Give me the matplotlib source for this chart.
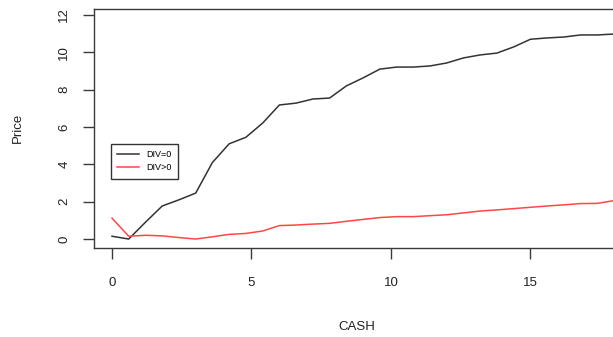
"""
Price against CASH for the two dividend groups (R-style line plot)
"""

import matplotlib
matplotlib.use("Agg")
import matplotlib.pyplot as plt

# values
cash = [0.0, 0.6, 1.2, 1.8, 2.4, 3.0, 3.6, 4.2, 4.8, 5.4, 6.0, 6.6, 7.2, 7.8, 8.4, 9.0,
        9.6, 10.2, 10.8, 11.4, 12.0, 12.6, 13.2, 13.8, 14.4, 15.0, 15.6, 16.2, 16.8,
        17.4, 18.0, 18.6]
price_div0 = [0.15, 0.0, 0.9, 1.77, 2.1, 2.46, 4.1, 5.1, 5.45, 6.21, 7.18, 7.28, 7.5,
              7.55, 8.2, 8.63, 9.1, 9.21, 9.21, 9.27, 9.43, 9.7, 9.86, 9.96, 10.29,
              10.7, 10.77, 10.82, 10.93, 10.93, 10.98, 11.1]
price_divpos = [1.12, 0.15, 0.2, 0.17, 0.08, 0.0, 0.12, 0.25, 0.3, 0.43, 0.72, 0.75,
                0.8, 0.84, 0.95, 1.05, 1.15, 1.2, 1.2, 1.25, 1.3, 1.4, 1.5, 1.56, 1.63,
                1.7, 1.77, 1.83, 1.9, 1.91, 2.06, 2.15]
series_names = ["DIV=0", "DIV>0"]
x_ticks = [0, 5, 10, 15]
y_ticks = [0, 2, 4, 6, 8, 10, 12]

W, H = 613, 337
plt.rcParams['font.family'] = ['Liberation Sans', 'DejaVu Sans']

fig = plt.figure(figsize=(W / 100, H / 100), dpi=100)
# plot box: left 94px, top 9px, bottom 248px, right runs past the image edge
ax = fig.add_axes([94 / W, (H - 248) / H, (620 - 94) / W, (248 - 9) / H])

ax.plot(cash, price_div0, color='#333333', lw=1.1, label=series_names[0])
ax.plot(cash, price_divpos, color='#ff4747', lw=1.1, label=series_names[1])

ax.set_xlim(-0.645, 18.21)
ax.set_ylim(-0.48, 12.32)
ax.set_xticks(x_ticks)
ax.set_yticks(y_ticks)

for s in ax.spines.values():
    s.set_color('#3a3a3a')
    s.set_linewidth(1.0)

ax.tick_params(axis='both', direction='out', length=8, width=1.0, color='#3a3a3a',
               labelsize=9.5, labelcolor='#222222')
ax.tick_params(axis='x', pad=13)
ax.tick_params(axis='y', pad=9)
for lab in ax.get_yticklabels():
    lab.set_rotation(90)
    lab.set_va('center')

fig.text(357 / W, 1 - 327 / H, "CASH", ha='center', va='center', fontsize=9.5,
         color='#222222')
fig.text(18 / W, 1 - 128 / H, "Price", ha='center', va='center', rotation=90,
         fontsize=9.5, color='#222222')

leg = ax.legend(loc='upper left', bbox_to_anchor=(111 / W, 1 - 144 / H),
                bbox_transform=fig.transFigure, borderaxespad=0, fontsize=6.5,
                frameon=True, fancybox=False, framealpha=1, edgecolor='#333333',
                handlelength=2.4, handletextpad=0.8, labelspacing=0.45,
                borderpad=0.7)
leg.get_frame().set_linewidth(1.0)

fig.savefig("out.png", dpi=100)
